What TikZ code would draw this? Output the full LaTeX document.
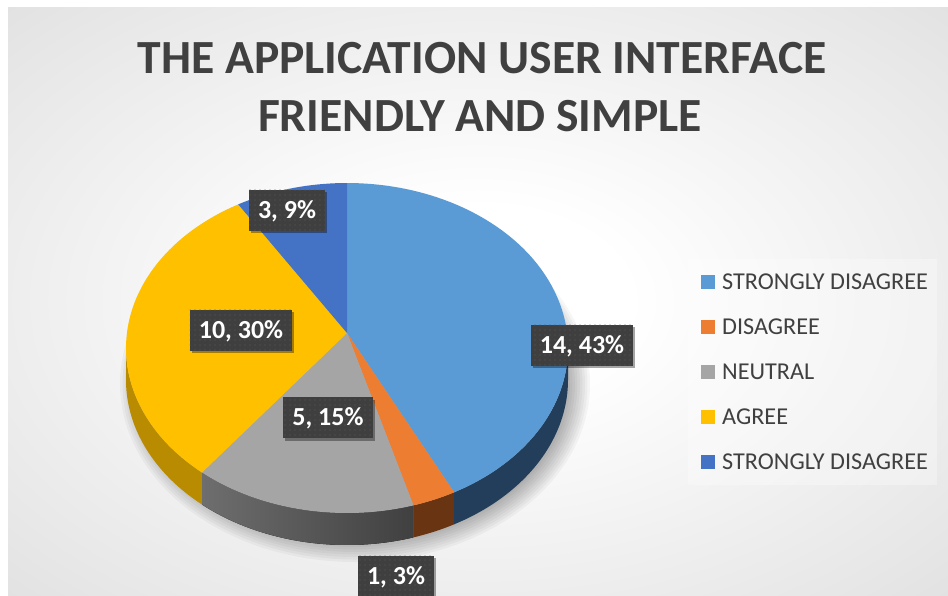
\documentclass[tikz,border=0pt]{standalone}
\usepackage{fontspec}
\setmainfont{Carlito}
\usetikzlibrary{patterns.meta,shadows}

% palette
\definecolor{bgmid}{HTML}{E6E6E6}
\definecolor{bgedge}{HTML}{D1D1D1}
\definecolor{bgcorner}{HTML}{BDBDBD}
\definecolor{txtgray}{HTML}{404040}
\definecolor{lblfill}{HTML}{3F3F3F}
\definecolor{dotgray}{HTML}{595959}
\definecolor{sdblue}{HTML}{5B9BD5}
\definecolor{dsorange}{HTML}{ED7D31}
\definecolor{ntgray}{HTML}{A5A5A5}
\definecolor{agyellow}{HTML}{FFC000}
\definecolor{sddark}{HTML}{4472C4}
\definecolor{sdblueside}{HTML}{223E5A}
\definecolor{dsorangeside}{HTML}{683412}
\definecolor{ntgrayside1}{HTML}{6E6E6E}
\definecolor{ntgrayside2}{HTML}{404040}
\definecolor{agyellowside}{HTML}{B88B00}

\pgfdeclareradialshading{chartbg}{\pgfpoint{0bp}{0bp}}{%
  color(0bp)=(white); color(8bp)=(white);
  color(32bp)=(bgmid); color(50bp)=(bgedge); color(72bp)=(bgcorner)}

% pie geometry (top face ellipse, side depth)
\def\cx{347}\def\cy{348}\def\rx{221}\def\ry{165}\def\dep{32}

\tikzset{
  legsq/.style={minimum size=14pt, inner sep=0pt},
  legtxt/.style={anchor=west, inner sep=0pt, text=txtgray,
    font=\fontsize{24.2}{28}\selectfont, text height=15pt, text depth=0pt},
  titletxt/.style={inner sep=0pt, text=txtgray,
    font=\bfseries\fontsize{47.6}{57}\selectfont, text height=30.6pt, text depth=0pt},
  datalbl/.style={fill=lblfill, text=white,
    font=\bfseries\fontsize{26}{30}\selectfont,
    inner xsep=9pt, inner ysep=0pt, minimum height=41pt,
    text height=16.4pt, text depth=0pt,
    drop shadow={shadow xshift=2pt, shadow yshift=-2.5pt, opacity=0.35, fill=black},
    postaction={pattern={Dots[distance=5pt, radius=0.6pt]}, pattern color=dotgray}}
}

\begin{document}
\begin{tikzpicture}[x=1pt,y=-1pt]
\useasboundingbox (0,0) rectangle (948,595);
\clip (0,0) rectangle (948,595);

% page and chart area
\fill[white] (0,0) rectangle (948,595);
\fill[shading=chartbg] (8,7) rectangle (948,595);

% title
\node[titletxt] (title1) at (482,58.5) {THE APPLICATION USER INTERFACE};
\node[titletxt] (title2) at (480,116) {FRIENDLY AND SIMPLE};

% soft shadow under the pie
\foreach \k in {0,...,8}
  \fill[black, opacity=0.035] (355,384) ellipse [x radius={215+2.5*\k}, y radius={158+2.5*\k}];

% pie sides
\fill[agyellowside]
  plot[domain=-180:-131, samples=40] ({\cx+\rx*cos(\x)},{\cy-\ry*sin(\x)})
  -- plot[domain=-131:-180, samples=40] ({\cx+\rx*cos(\x)},{\cy+\dep-\ry*sin(\x)}) -- cycle;
\fill[left color=ntgrayside1, right color=ntgrayside2]
  plot[domain=-131:-72.5, samples=40] ({\cx+\rx*cos(\x)},{\cy-\ry*sin(\x)})
  -- plot[domain=-72.5:-131, samples=40] ({\cx+\rx*cos(\x)},{\cy+\dep-\ry*sin(\x)}) -- cycle;
\fill[dsorangeside]
  plot[domain=-72.5:-61, samples=20] ({\cx+\rx*cos(\x)},{\cy-\ry*sin(\x)})
  -- plot[domain=-61:-72.5, samples=20] ({\cx+\rx*cos(\x)},{\cy+\dep-\ry*sin(\x)}) -- cycle;
\fill[sdblueside]
  plot[domain=-61:0, samples=40] ({\cx+\rx*cos(\x)},{\cy-\ry*sin(\x)})
  -- plot[domain=0:-61, samples=40] ({\cx+\rx*cos(\x)},{\cy+\dep-\ry*sin(\x)}) -- cycle;

% pie top face
\coordinate (V) at (347,333);
\fill[sdblue] (V) -- plot[domain=90:-61, samples=90] ({\cx+\rx*cos(\x)},{\cy-\ry*sin(\x)}) -- cycle;
\fill[dsorange] (V) -- plot[domain=-61:-72.5, samples=20] ({\cx+\rx*cos(\x)},{\cy-\ry*sin(\x)}) -- cycle;
\fill[ntgray] (V) -- plot[domain=-72.5:-131, samples=40] ({\cx+\rx*cos(\x)},{\cy-\ry*sin(\x)}) -- cycle;
\fill[agyellow] (V) -- plot[domain=-131:-240.5, samples=60] ({\cx+\rx*cos(\x)},{\cy-\ry*sin(\x)}) -- cycle;
\fill[sddark] (V) -- plot[domain=119.5:90, samples=20] ({\cx+\rx*cos(\x)},{\cy-\ry*sin(\x)}) -- cycle;

% data labels
\node[datalbl] (l1) at (582,345) {14, 43\%};
\node[datalbl] (l2) at (396,576) {1, 3\%};
\node[datalbl] (l3) at (328,417.5) {5, 15\%};
\node[datalbl] (l4) at (241,330) {10, 30\%};
\node[datalbl] (l5) at (287,210) {3, 9\%};

% legend
\fill[white, opacity=0.3] (688,259) rectangle (937,485);
\node[legsq, fill=sdblue]   (k1) at (708,282) {};
\node[legsq, fill=dsorange] (k2) at (708,327) {};
\node[legsq, fill=ntgray]   (k3) at (708,372) {};
\node[legsq, fill=agyellow] (k4) at (708,417) {};
\node[legsq, fill=sddark]   (k5) at (708,462) {};
\node[legtxt] (t1) at (722,282) {STRONGLY DISAGREE};
\node[legtxt] (t2) at (722,327) {DISAGREE};
\node[legtxt] (t3) at (722,372) {NEUTRAL};
\node[legtxt] (t4) at (722,417) {AGREE};
\node[legtxt] (t5) at (722,462) {STRONGLY DISAGREE};
\end{tikzpicture}
\end{document}
